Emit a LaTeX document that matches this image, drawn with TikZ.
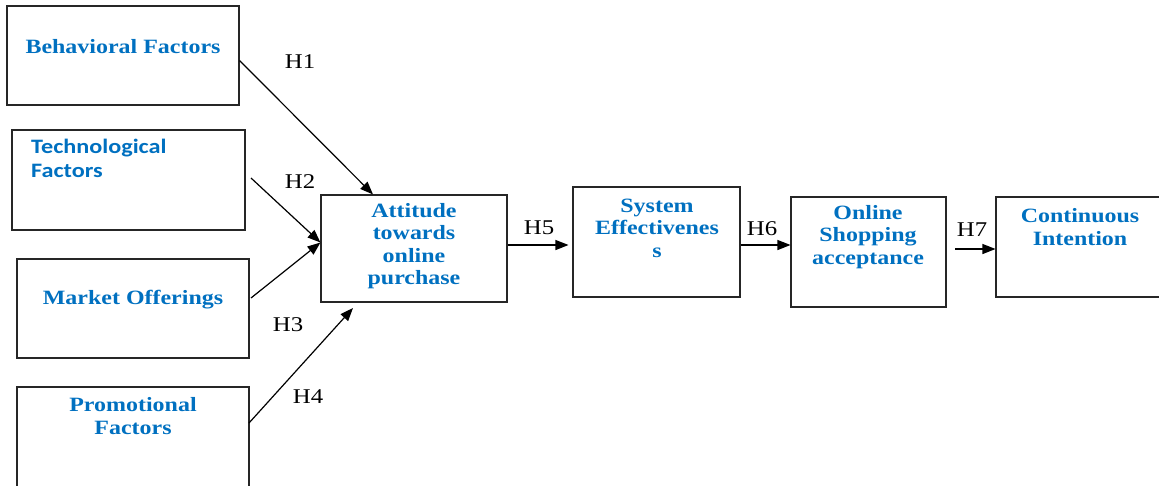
\documentclass[tikz,border=0pt]{standalone}
\usepackage{fontspec}
\setmainfont{Liberation Serif}[FakeStretch=1.18]
\newfontfamily\calib{Carlito}[FakeStretch=1.18]
\usetikzlibrary{arrows.meta,calc}
\definecolor{txtblue}{RGB}{0,112,192}
\tikzset{
  box/.style={draw=black!85, line width=1.1pt, rectangle, inner sep=0pt, fill=none},
  lbl/.style={text=txtblue, font=\fontsize{20.3pt}{22.5pt}\selectfont\bfseries, align=center, inner sep=0pt},
  hyp/.style={text=black, font=\fontsize{21pt}{22pt}\selectfont, inner sep=0pt},
  arr/.style={draw=black, line width=1.2pt, -{Triangle[length=13pt,width=10pt]}}
}
\begin{document}
\begin{tikzpicture}[x=1pt,y=-1pt]
\useasboundingbox (0,0) rectangle (1159,485);
% boxes
\node[box, minimum width=232pt, minimum height=99pt] (beh) at (123,55.5) {};
\node[box, minimum width=233pt, minimum height=100pt] (tec) at (128.5,180) {};
\node[box, minimum width=232pt, minimum height=99pt] (mkt) at (133,308.5) {};
\node[box, minimum width=232pt, minimum height=123pt] (pro) at (133,448.5) {};
\node[box, minimum width=186pt, minimum height=107pt] (att) at (414,248.5) {};
\node[box, minimum width=167pt, minimum height=110pt] (sys) at (656.5,242) {};
\node[box, minimum width=155pt, minimum height=110pt] (onl) at (868.5,252) {};
\node[box, minimum width=179pt, minimum height=100pt] (con) at (1085.5,247) {};
% texts
\node[lbl] (behT) at (123,47) {Behavioral Factors};
\node[lbl, align=left, anchor=north west, font=\fontsize{20.5pt}{24pt}\selectfont\calib\bfseries] (tecT) at (31,139) {Technological\\Factors};
\node[lbl] (mktT) at (133,300) {Market Offerings};
\node[lbl] (proT) at (133,416) {Promotional\\Factors};
\node[lbl] (attT) at (414,246) {Attitude\\towards\\online\\purchase};
\node[lbl] (sysT) at (657,228) {System\\Effectivenes\\s};
\node[lbl] (onlT) at (868,237) {Online\\Shopping\\acceptance};
\node[lbl] (conT) at (1080,227) {Continuous\\Intention};
% free ends
\coordinate (h2s) at (251,178);
\coordinate (h3s) at (251,298);
\coordinate (h4s) at (249,423);
\coordinate (h4e) at (353,308);
\coordinate (h7s) at (955,249);
% arrows
\draw[arr] ([yshift=-5pt]beh.east) -- ([xshift=-41pt]att.north);
\draw[arr] (h2s) -- ([yshift=6pt]att.west);
\draw[arr] (h3s) -- ([yshift=6pt]att.west);
\draw[arr] (h4s) -- (h4e);
\draw[arr, shorten >=4pt] ([yshift=3.5pt]att.east) -- ([yshift=-3pt]sys.west);
\draw[arr] ([yshift=-3pt]sys.east) -- ([yshift=7pt]onl.west);
\draw[arr] (h7s) -- ([yshift=-2pt]con.west);
% hypothesis labels
\node[hyp] (H1) at (300,62) {H1};
\node[hyp] (H2) at (300,182) {H2};
\node[hyp] (H3) at (288,325) {H3};
\node[hyp] (H4) at (308,397) {H4};
\node[hyp] (H5) at (539,228) {H5};
\node[hyp] (H6) at (762,229) {H6};
\node[hyp] (H7) at (972,230) {H7};
\end{tikzpicture}
\end{document}
